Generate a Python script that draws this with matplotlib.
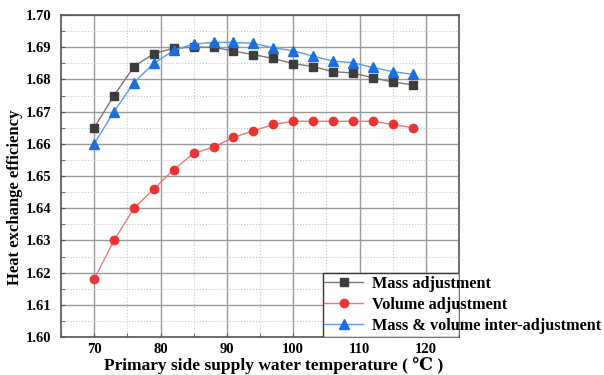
import numpy as np
import matplotlib.pyplot as plt
from matplotlib.patches import Rectangle
from matplotlib.ticker import MultipleLocator

plt.rcParams['font.family'] = ['Liberation Serif', 'DejaVu Serif', 'DejaVu Sans', 'Noto Sans CJK SC']
plt.rcParams['font.weight'] = 'bold'

# supply water temperature (°C)
temp = [70, 73, 76, 79, 82, 85, 88, 91, 94, 97, 100, 103, 106, 109, 112, 115, 118]
# heat exchange efficiency for each regulation mode
mass_adj = [1.665, 1.675, 1.684, 1.688, 1.6897, 1.690, 1.690, 1.6888, 1.6877, 1.6865,
            1.6849, 1.6840, 1.6824, 1.6820, 1.6805, 1.6792, 1.6783]
volume_adj = [1.618, 1.630, 1.640, 1.646, 1.652, 1.657, 1.659, 1.662, 1.664, 1.666,
              1.667, 1.667, 1.667, 1.667, 1.667, 1.666, 1.665]
inter_adj = [1.660, 1.670, 1.679, 1.685, 1.689, 1.691, 1.6915, 1.6915, 1.6912, 1.6898,
             1.6889, 1.6872, 1.6857, 1.6852, 1.6837, 1.6824, 1.6816]
labels = ['Mass adjustment', 'Volume adjustment', 'Mass & volume inter-adjustment']

fig = plt.figure(figsize=(6.04, 3.75), dpi=100)
ax = fig.add_axes([61/604, 1 - 337/375, 398/604, 322/375])

ax.plot(temp, mass_adj, color='#7a7a7a', lw=1.0, marker='s', ms=5.5,
        mfc='#3d3d3d', mec='#3d3d3d', label=labels[0], zorder=3)
ax.plot(temp, volume_adj, color='#f07878', lw=1.0, marker='o', ms=6,
        mfc='#ee3333', mec='#ee3333', label=labels[1], zorder=3)
ax.plot(temp, inter_adj, color='#5a9cf0', lw=1.0, marker='^', ms=6.5,
        mfc='#1a6fe0', mec='#1a6fe0', label=labels[2], zorder=3)

ax.set_xlim(65, 125)
ax.set_ylim(1.60, 1.70)
ax.set_xticks([70, 80, 90, 100, 110, 120])
ax.xaxis.set_minor_locator(MultipleLocator(5))
ax.yaxis.set_major_locator(MultipleLocator(0.01))
ax.yaxis.set_minor_locator(MultipleLocator(0.005))
ax.yaxis.set_major_formatter(plt.FormatStrFormatter('%.2f'))

ax.grid(which='major', color='#9a9a9a', lw=1.0, zorder=0)
ax.grid(which='minor', color='#c8c8c8', lw=0.8, ls=':', zorder=0)
ax.set_axisbelow(True)
ax.tick_params(which='both', direction='in', length=3, color='#555555')
ax.tick_params(axis='y', labelsize=10.5, pad=7)
ax.tick_params(axis='x', labelsize=10.5, pad=4)
for s in ax.spines.values():
    s.set_color('#555555')
    s.set_linewidth(1.2)

ax.set_ylabel('Heat exchange efficiency', fontsize=12, fontweight='bold')
ax.yaxis.set_label_coords(-0.095, 0.435)
ax.set_xlabel('Primary side supply water temperature ( ℃ )', fontsize=12.5, fontweight='bold')
ax.xaxis.set_label_coords(0.535, -0.062)

# white box behind the legend, legend text runs past the right spine
ax.add_patch(Rectangle((0.658, 0.0), 0.342, 0.199, transform=ax.transAxes,
                       facecolor='white', edgecolor='#333333', lw=1.0, zorder=4))
leg = ax.legend(loc='upper left', bbox_to_anchor=(0.662, 0.19), frameon=False,
                fontsize=11.7, handlelength=2.4, handletextpad=0.55,
                labelspacing=0.3, borderpad=0, borderaxespad=0)
leg.set_zorder(5)
for t in leg.get_texts():
    t.set_fontweight('bold')

fig.savefig('out.png', dpi=100)
